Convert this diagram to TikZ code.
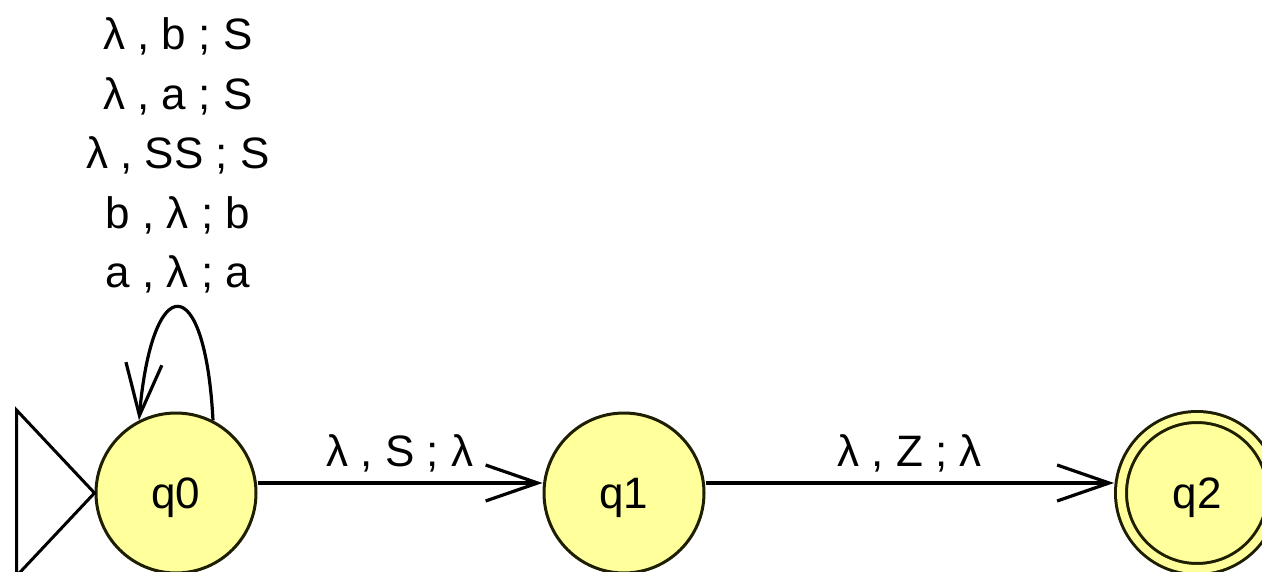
\documentclass[tikz,border=0pt]{standalone}
\usepackage{fontspec}
\setmainfont{Liberation Sans}
\usetikzlibrary{arrows.meta}
\definecolor{stfill}{RGB}{255,255,155}
\definecolor{stline}{RGB}{30,30,0}
\begin{document}
\begin{tikzpicture}[x=1pt,y=-1pt,
  every node/.style={font=\fontsize{44}{59.5}\selectfont},
  state/.style={circle,draw=stline,fill=stfill,line width=3pt,minimum size=160pt,inner sep=0pt,text depth=0pt},
  accepting/.style={double=stfill,double distance=8pt,minimum size=152pt,outer sep=7pt},
  edge/.style={line width=3.2pt,-{Straight Barb[length=52pt,width=36pt]}},
  elabel/.style={anchor=south,inner sep=0pt,text depth=0pt,yshift=15pt}]
\useasboundingbox (0,0) rectangle (1262,571);
\node[state] (q0) at (176,493) {q0};
\node[state] (q1) at (624,493) {q1};
\node[state,accepting] (q2) at (1197,493) {q2};
% initial marker
\draw[line width=3pt,line join=miter] (q0.west) -- ++(-78,-83) -- ++(0,166) -- cycle;
% loop
\draw[edge] (q0.63) .. controls +(-8,-152) and +(13,-150) .. (q0.117)
  node[midway,anchor=south,inner sep=0pt,text depth=0pt,yshift=18pt,align=center]
  {λ , b ; S\\λ , a ; S\\λ , SS ; S\\b , λ ; b\\a , λ ; a};
% transitions
\draw[edge] ([yshift=10pt]q0.east) -- ([yshift=10pt]q1.west)
  node[midway,elabel] {λ , S ; λ};
\draw[edge] ([yshift=10pt]q1.east) -- ([yshift=10pt]q2.west)
  node[midway,elabel] {λ , Z ; λ};
\end{tikzpicture}
\end{document}
